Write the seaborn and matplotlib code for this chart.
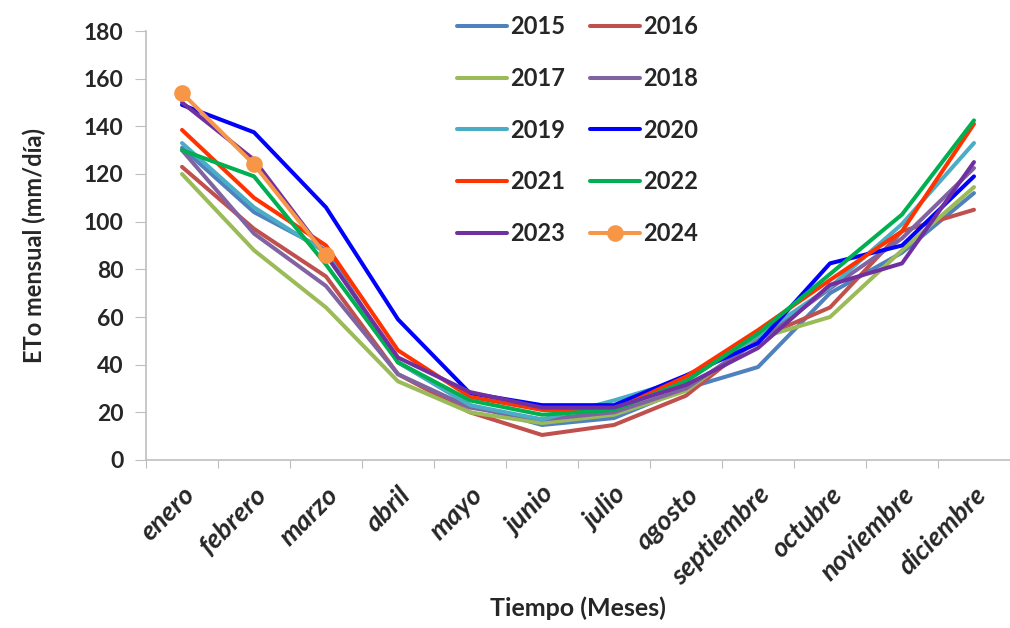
import pandas as pd
import numpy as np
import matplotlib
matplotlib.use('Agg')
import matplotlib.pyplot as plt
import seaborn as sns

meses = ['enero', 'febrero', 'marzo', 'abril', 'mayo', 'junio', 'julio',
         'agosto', 'septiembre', 'octubre', 'noviembre', 'diciembre']

eto_2015 = [131, 104, 88, 41, 23, 14.7, 17.6, 30, 39, 70, 87, 112]
eto_2016 = [123, 97, 77, 36, 20, 10.5, 14.7, 27, 51, 64, 96, 105]
eto_2017 = [120, 88, 64, 33, 20, 15.5, 19, 29, 51, 60, 88, 114.5]
eto_2018 = [130, 95, 73, 36, 22, 17, 20, 30, 50, 72, 93, 122.5]
eto_2019 = [133, 106, 87, 41, 23, 17, 25, 34, 52, 72.5, 99, 133]
eto_2020 = [149, 137.5, 106, 59, 28, 23, 23, 35.5, 49, 82.5, 90, 119]
eto_2021 = [138.5, 110, 90, 46, 26.5, 21, 21, 35, 54.5, 75.5, 96, 141]
eto_2022 = [130, 119, 82, 41, 25, 19, 21, 33, 53, 78, 103, 142.5]
eto_2023 = [150, 126, 86, 43, 28.5, 22, 22, 31.5, 47, 73.5, 82.5, 125]
eto_2024 = [154, 124, 86, None, None, None, None, None, None, None, None, None]

series = {'2015': eto_2015, '2016': eto_2016, '2017': eto_2017, '2018': eto_2018,
          '2019': eto_2019, '2020': eto_2020, '2021': eto_2021, '2022': eto_2022,
          '2023': eto_2023, '2024': eto_2024}

colores = {'2015': '#4F81BD', '2016': '#C0504D', '2017': '#9BBB59', '2018': '#8064A2',
           '2019': '#4BACC6', '2020': '#0000FF', '2021': '#FF3300', '2022': '#00B050',
           '2023': '#7030A0', '2024': '#F79646'}

rows = []
for anio, vals in series.items():
    for i, v in enumerate(vals):
        if v is not None:
            rows.append({'mes': i, 'anio': anio, 'eto': v})
df = pd.DataFrame(rows)

sns.set_style('white')
plt.rcParams['font.family'] = ['Lato', 'DejaVu Sans']

fig = plt.figure(figsize=(10.1, 6.28), dpi=100)
ax = fig.add_axes([146/1010, 1 - 460/628, 1 - 146/1010, (460 - 31)/628])

for anio in series:
    d = df[df['anio'] == anio]
    if anio == '2024':
        sns.lineplot(data=d, x='mes', y='eto', color=colores[anio], lw=2.9,
                     marker='o', markersize=12, markeredgewidth=0, label=anio, ax=ax)
    else:
        sns.lineplot(data=d, x='mes', y='eto', color=colores[anio], lw=2.9,
                     label=anio, ax=ax)

ax.set_ylim(0, 180)
ax.set_xlim(-0.5, 11.5 - 10/72.8)
ax.set_yticks(range(0, 181, 20))
ax.set_xticks(np.arange(-0.5, 12, 1))
ax.set_xticklabels([])
ax.set_xticks(range(12), minor=True)
ax.set_xticklabels(meses, minor=True, rotation=45, ha='right', rotation_mode='anchor',
                   fontsize=19.5, weight='bold', style='italic')
ax.tick_params(axis='x', which='minor', length=0, pad=16)
ax.tick_params(axis='x', which='major', length=6, color='#BFBFBF', direction='out', bottom=True)
ax.tick_params(axis='y', length=8, color='#BFBFBF', direction='out', left=True, labelsize=16.5, pad=8)
for lab in ax.get_yticklabels():
    lab.set_fontweight('bold')

for s in ['top', 'right']:
    ax.spines[s].set_visible(False)
for s in ['left', 'bottom']:
    ax.spines[s].set_color('#BFBFBF')
    ax.spines[s].set_linewidth(1.2)

ax.set_ylabel('ETo mensual (mm/día)', fontsize=17, weight='bold', labelpad=27)
ax.set_xlabel('Tiempo (Meses)', fontsize=18, weight='bold', labelpad=5)

ax.legend_.remove()
handles, labels = ax.get_legend_handles_labels()
# row-wise order like the original: 2015 2016 / 2017 2018 ...
order = [0, 2, 4, 6, 8, 1, 3, 5, 7, 9]
fig.legend([handles[i] for i in order], [labels[i] for i in order], ncol=2,
           frameon=False, loc='upper left',
           bbox_to_anchor=(457/1010, 1 - 15/628), borderaxespad=0, borderpad=0,
           prop={'weight': 'bold', 'size': 17}, handlelength=2.1, handletextpad=0.15,
           labelspacing=1.22, columnspacing=1.06)

plt.savefig('out.png', dpi=100)
